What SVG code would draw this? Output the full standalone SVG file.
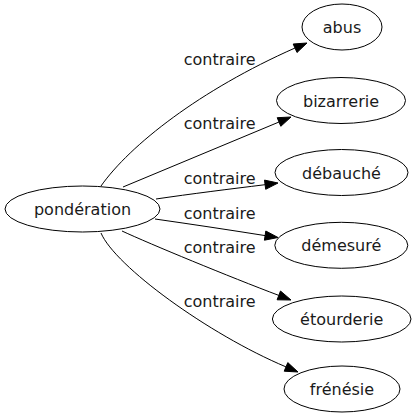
<svg xmlns="http://www.w3.org/2000/svg" width="415" height="419" viewBox="0 0 415 419">
<style>
.node ellipse{fill:none;stroke:#000;stroke-width:1}
.node text{font-family:"DejaVu Sans",sans-serif;font-size:16px;fill:#1a1a1a;text-anchor:middle}
.edge path{fill:none;stroke:#000;stroke-width:1}
.edge polygon{fill:#000;stroke:#000;stroke-width:1}
.edge text{font-family:"DejaVu Sans",sans-serif;font-size:16px;fill:#1a1a1a;text-anchor:middle}
</style>
<rect width="415" height="419" fill="#fff"/>
<g id="edges">
<g class="edge" id="e-abus">
<path d="M101,186 C130,145 200,90 295,48"/>
<polygon points="307,43 293.2,44 297,52.5"/>
<text x="219.7" y="65">contraire</text>
</g>
<g class="edge" id="e-bizarrerie">
<path d="M123,187 L279,122"/>
<polygon points="291,117 277.2,117.7 280.8,126.3"/>
<text x="219.7" y="129.3">contraire</text>
</g>
<g class="edge" id="e-debauche">
<path d="M156,199 C190,194 230,189 265.1,184.7"/>
<polygon points="278,183 264.5,180.1 265.7,189.3"/>
<text x="219.7" y="184">contraire</text>
</g>
<g class="edge" id="e-demesure">
<path d="M155,219 C190,224 230,230 265.1,235.6"/>
<polygon points="278,237.5 265.8,231 264.4,240.2"/>
<text x="219.7" y="219">contraire</text>
</g>
<g class="edge" id="e-etourderie">
<path d="M122,231 C150,244 230,277 278.8,295.4"/>
<polygon points="291,300 280.5,291 277.1,299.8"/>
<text x="219.7" y="253.3">contraire</text>
</g>
<g class="edge" id="e-frenesie">
<path d="M101,233 C115,266 208,334 286,366.9"/>
<polygon points="298,372 287.8,362.6 284.2,371.2"/>
<text x="219.7" y="306.7">contraire</text>
</g>
</g>
<g class="node" id="n-ponderation">
<ellipse cx="82.5" cy="209" rx="77.5" ry="23"/>
<text x="82.5" y="215">pondération</text>
</g>
<g class="node" id="n-abus">
<ellipse cx="342" cy="27" rx="40" ry="23"/>
<text x="342" y="33">abus</text>
</g>
<g class="node" id="n-bizarrerie">
<ellipse cx="341" cy="100.5" rx="64.5" ry="23"/>
<text x="341" y="106.5">bizarrerie</text>
</g>
<g class="node" id="n-debauche">
<ellipse cx="341.5" cy="172.5" rx="66.5" ry="23"/>
<text x="341.5" y="178.5">débauché</text>
</g>
<g class="node" id="n-demesure">
<ellipse cx="341.3" cy="245.3" rx="66.5" ry="23"/>
<text x="341.3" y="251">démesuré</text>
</g>
<g class="node" id="n-etourderie">
<ellipse cx="341.7" cy="319" rx="69.3" ry="23"/>
<text x="341.7" y="325">étourderie</text>
</g>
<g class="node" id="n-frenesie">
<ellipse cx="342" cy="389" rx="58" ry="23"/>
<text x="342" y="395">frénésie</text>
</g>
</svg>
